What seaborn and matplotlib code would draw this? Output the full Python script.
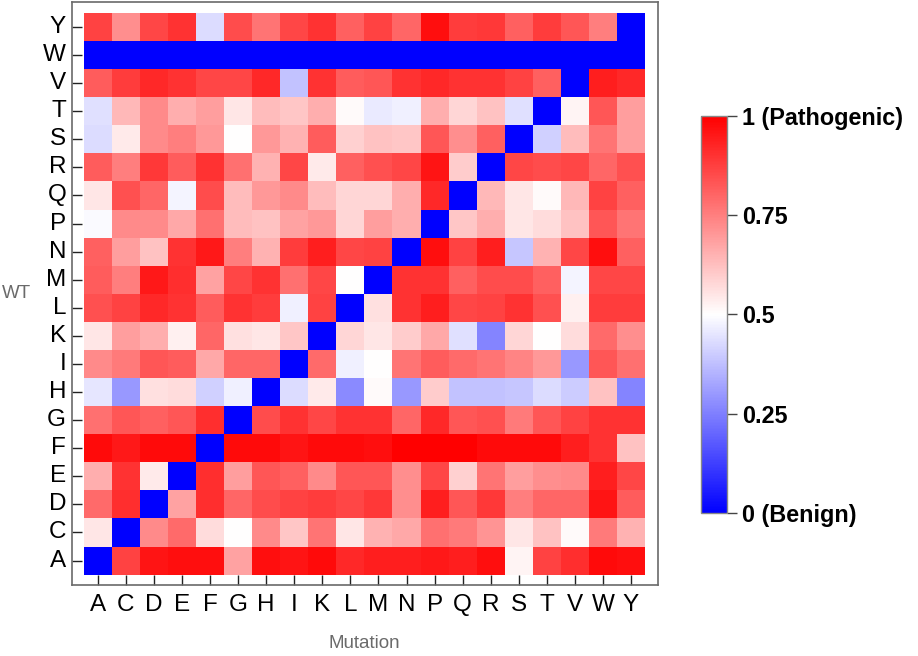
import matplotlib
matplotlib.use("Agg")
import matplotlib.pyplot as plt
import seaborn as sns
import numpy as np
import pandas as pd
from matplotlib.colors import LinearSegmentedColormap

sns.set_style("white")
plt.rcParams['font.family'] = ['Liberation Sans', 'DejaVu Sans']

mutations = ["A", "C", "D", "E", "F", "G", "H", "I", "K", "L",
             "M", "N", "P", "Q", "R", "S", "T", "V", "W", "Y"]
wt_rows = ["Y", "W", "V", "T", "S", "R", "Q", "P", "N", "M",
           "L", "K", "I", "H", "G", "F", "E", "D", "C", "A"]

row_Y = [0.87, 0.72, 0.86, 0.90, 0.43, 0.85, 0.77, 0.86, 0.90, 0.81, 0.87, 0.80, 0.97, 0.88, 0.89, 0.81, 0.88, 0.83, 0.75, 0.00]
row_W = [0.00, 0.00, 0.00, 0.00, 0.00, 0.00, 0.00, 0.00, 0.00, 0.00, 0.00, 0.00, 0.00, 0.00, 0.00, 0.00, 0.00, 0.00, 0.00, 0.00]
row_V = [0.82, 0.88, 0.92, 0.90, 0.86, 0.86, 0.92, 0.38, 0.90, 0.82, 0.83, 0.90, 0.92, 0.90, 0.90, 0.87, 0.81, 0.00, 0.94, 0.92]
row_T = [0.44, 0.64, 0.73, 0.66, 0.69, 0.55, 0.63, 0.61, 0.66, 0.51, 0.46, 0.47, 0.66, 0.58, 0.62, 0.44, 0.00, 0.52, 0.83, 0.69]
row_S = [0.43, 0.54, 0.73, 0.75, 0.70, 0.50, 0.70, 0.65, 0.82, 0.59, 0.62, 0.61, 0.83, 0.72, 0.81, 0.00, 0.41, 0.63, 0.77, 0.69]
row_R = [0.82, 0.75, 0.89, 0.82, 0.90, 0.78, 0.65, 0.86, 0.54, 0.81, 0.84, 0.86, 0.96, 0.60, 0.00, 0.86, 0.85, 0.86, 0.80, 0.84]
row_Q = [0.55, 0.84, 0.80, 0.48, 0.85, 0.63, 0.70, 0.73, 0.63, 0.58, 0.58, 0.66, 0.92, 0.00, 0.64, 0.55, 0.51, 0.64, 0.87, 0.81]
row_P = [0.49, 0.73, 0.73, 0.67, 0.78, 0.63, 0.62, 0.68, 0.70, 0.58, 0.69, 0.66, 0.00, 0.61, 0.66, 0.55, 0.57, 0.62, 0.83, 0.77]
row_N = [0.81, 0.69, 0.62, 0.90, 0.95, 0.75, 0.65, 0.88, 0.94, 0.86, 0.87, 0.00, 0.97, 0.87, 0.94, 0.39, 0.65, 0.86, 0.97, 0.81]
row_M = [0.82, 0.75, 0.95, 0.91, 0.68, 0.86, 0.90, 0.78, 0.86, 0.50, 0.00, 0.90, 0.90, 0.81, 0.85, 0.85, 0.81, 0.48, 0.86, 0.86]
row_L = [0.84, 0.87, 0.92, 0.90, 0.82, 0.90, 0.88, 0.47, 0.87, 0.00, 0.56, 0.90, 0.94, 0.86, 0.87, 0.90, 0.84, 0.53, 0.88, 0.88]
row_K = [0.55, 0.69, 0.66, 0.53, 0.80, 0.56, 0.55, 0.61, 0.00, 0.58, 0.55, 0.60, 0.67, 0.44, 0.26, 0.58, 0.50, 0.57, 0.79, 0.72]
row_I = [0.73, 0.76, 0.83, 0.82, 0.67, 0.80, 0.80, 0.00, 0.79, 0.47, 0.50, 0.77, 0.82, 0.79, 0.77, 0.74, 0.70, 0.30, 0.83, 0.78]
row_H = [0.45, 0.30, 0.56, 0.57, 0.41, 0.47, 0.00, 0.43, 0.54, 0.27, 0.51, 0.30, 0.60, 0.38, 0.38, 0.39, 0.43, 0.40, 0.62, 0.26]
row_G = [0.78, 0.83, 0.81, 0.83, 0.91, 0.00, 0.85, 0.90, 0.86, 0.90, 0.90, 0.80, 0.92, 0.83, 0.84, 0.76, 0.83, 0.87, 0.90, 0.90]
row_F = [0.98, 0.95, 0.98, 0.98, 0.00, 0.98, 0.98, 0.96, 0.98, 0.98, 0.97, 1.00, 1.00, 1.00, 0.98, 0.98, 0.98, 0.94, 0.90, 0.62]
row_E = [0.66, 0.90, 0.54, 0.00, 0.91, 0.69, 0.83, 0.81, 0.73, 0.83, 0.83, 0.72, 0.86, 0.59, 0.77, 0.69, 0.72, 0.73, 0.94, 0.86]
row_D = [0.79, 0.91, 0.00, 0.68, 0.91, 0.80, 0.85, 0.87, 0.88, 0.86, 0.89, 0.72, 0.94, 0.83, 0.89, 0.75, 0.80, 0.80, 0.96, 0.82]
row_C = [0.55, 0.00, 0.73, 0.79, 0.57, 0.50, 0.73, 0.61, 0.77, 0.55, 0.65, 0.67, 0.78, 0.76, 0.71, 0.55, 0.62, 0.51, 0.76, 0.65]
row_A = [0.00, 0.87, 0.96, 0.97, 0.97, 0.68, 0.97, 0.96, 0.98, 0.92, 0.94, 0.94, 0.95, 0.94, 0.97, 0.52, 0.87, 0.91, 0.98, 0.97]

cbar_ticks = [0, 0.25, 0.5, 0.75, 1]
cbar_labels = ["0 (Benign)", "0.25", "0.5", "0.75", "1 (Pathogenic)"]

rows = [row_Y, row_W, row_V, row_T, row_S, row_R, row_Q, row_P, row_N, row_M,
        row_L, row_K, row_I, row_H, row_G, row_F, row_E, row_D, row_C, row_A]
df = pd.DataFrame(rows, index=wt_rows, columns=mutations)

cmap = LinearSegmentedColormap.from_list("bwr_pure", ["#0000ff", "#ffffff", "#ff0000"])

W, H = 918, 656
fig = plt.figure(figsize=(W / 100, H / 100), dpi=100)
ax = fig.add_axes([71.7 / W, 1 - 584.7 / H, 586 / W, 583 / H])
cax = fig.add_axes([701 / W, 1 - 513.3 / H, 26 / W, 397.6 / H])

sns.heatmap(df, ax=ax, cbar_ax=cax, cmap=cmap, vmin=0, vmax=1,
            linewidths=0, square=False)

ax.set_position([71.7 / W, 1 - 584.7 / H, 586 / W, 583 / H])
ax.set_xlim(-0.43, 20.45)
ax.set_ylim(20.36, -0.40)
for s in ax.spines.values():
    s.set_visible(True)
    s.set_color("#6a6a6a")
    s.set_linewidth(1.2)
ax.tick_params(axis="both", direction="in", length=7, width=1, color="#222222",
               labelsize=17.5, labelcolor="black", bottom=True, left=True)
ax.tick_params(axis="x", pad=7)
ax.tick_params(axis="y", pad=4)
ax.set_xticklabels(mutations, rotation=0)
ax.set_yticklabels(wt_rows, rotation=0)
ax.set_xlabel("")
ax.set_ylabel("")

fig.text(0.002, 1 - 293 / H, "WT", ha="left", va="center", fontsize=13.5, color="#6a6a6a")
fig.text(364.7 / W, 1 - 643 / H, "Mutation", ha="center", va="center", fontsize=13.5, color="#6a6a6a")

cax.set_position([701 / W, 1 - 513.3 / H, 26 / W, 397.6 / H])
cb = ax.collections[0].colorbar
cb.set_ticks(cbar_ticks)
cb.set_ticklabels(cbar_labels)
cb.outline.set_visible(True)
cb.outline.set_edgecolor("#888888")
cb.outline.set_linewidth(1)
cax.tick_params(axis="y", direction="out", length=7, width=1, color="#444444", pad=4,
                labelsize=16.8, labelcolor="black", right=True)
for t in cax.get_yticklabels():
    t.set_fontweight("bold")

fig.savefig("out.png", dpi=100)
